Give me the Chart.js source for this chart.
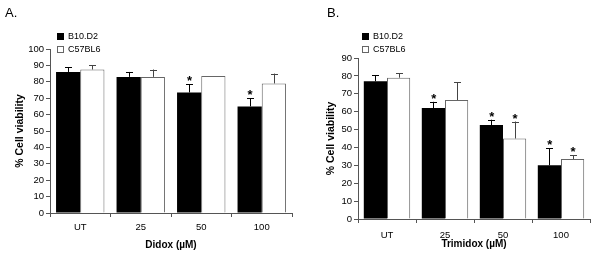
<!DOCTYPE html>
<html>
<head>
<meta charset="utf-8">
<script src="https://cdn.jsdelivr.net/npm/chart.js@4.4.1/dist/chart.umd.min.js"></script>
<style>
  body { margin: 0; background: #fff; }
  .wrap { display: flex; width: 600px; height: 262px; }
  canvas { display: block; }
</style>
</head>
<body>
<div class="wrap">
  <canvas id="didoxChart" width="300" height="262"></canvas>
  <canvas id="trimidoxChart" width="300" height="262"></canvas>
</div>
<script>
// values
const categories = ['UT', '25', '50', '100'];
const seriesNames = ['B10.D2', 'C57BL6'];

// A. Didox
const didoxB10 = [86, 83, 73.5, 65];
const didoxB10Err = [3, 3, 5, 5];
const didoxB10Star = [false, false, true, true];
const didoxC57 = [87.5, 83, 83.5, 79];
const didoxC57Err = [2.5, 4.5, 0, 6];
const didoxC57Star = [false, false, false, false];

// B. Trimidox
const trimB10 = [77, 62, 52.5, 30];
const trimB10Err = [3.5, 3.5, 3, 9.5];
const trimB10Star = [false, true, true, true];
const trimC57 = [79, 66.5, 45, 33.5];
const trimC57Err = [2.5, 10, 9.5, 2];
const trimC57Star = [false, false, true, true];

const FONT = "'Liberation Sans', Arial, sans-serif";
const AXIS = '#555';

// error bars (upper only), stars, legend and panel letter
const extras = {
  id: 'extras',
  afterDatasetsDraw(chart, args, opts) {
    const ctx = chart.ctx;
    const y = chart.scales.y;
    ctx.save();
    chart.data.datasets.forEach((ds, i) => {
      const meta = chart.getDatasetMeta(i);
      meta.data.forEach((bar, j) => {
        const v = ds.data[j];
        const e = ds.errors[j];
        let top = y.getPixelForValue(v);
        if (e > 0) {
          top = y.getPixelForValue(v + e);
          ctx.strokeStyle = i === 0 ? '#000' : '#444';
          ctx.lineWidth = 1;
          ctx.beginPath();
          ctx.moveTo(Math.round(bar.x) + 0.5, y.getPixelForValue(v));
          ctx.lineTo(Math.round(bar.x) + 0.5, top);
          ctx.moveTo(Math.round(bar.x) - 3, Math.round(top) + 0.5);
          ctx.lineTo(Math.round(bar.x) + 4, Math.round(top) + 0.5);
          ctx.stroke();
        }
        if (ds.stars[j]) {
          ctx.fillStyle = '#000';
          ctx.font = 'bold 13px ' + FONT;
          ctx.textAlign = 'center';
          ctx.textBaseline = 'alphabetic';
          ctx.fillText('*', bar.x + 0.5, top + 1);
        }
      });
    });

    // legend
    ctx.font = '9px ' + FONT;
    ctx.textAlign = 'left';
    ctx.textBaseline = 'middle';
    chart.data.datasets.forEach((ds, i) => {
      const ly = opts.legendY + i * 13;
      ctx.fillStyle = ds.backgroundColor;
      ctx.fillRect(opts.legendX, ly, 7, 7);
      ctx.strokeStyle = ds.borderColor;
      ctx.lineWidth = 1;
      ctx.strokeRect(opts.legendX + 0.5, ly + 0.5, 6, 6);
      ctx.fillStyle = '#000';
      ctx.fillText(ds.label, opts.legendX + 11, ly + 4);
    });

    // panel letter
    ctx.font = '13px ' + FONT;
    ctx.textBaseline = 'alphabetic';
    ctx.fillText(opts.panel, opts.panelX, 17);
    ctx.restore();
  }
};

function scalesFor(max, axisW, axisH, yTitlePad, xTitle, xTitlePad, xTickPad) {
  return {
    x: {
      grid: { drawOnChartArea: false, tickLength: 4, color: AXIS },
      border: { color: AXIS },
      ticks: { color: '#000', font: { family: FONT, size: 9.5 }, padding: xTickPad },
      title: { display: true, text: xTitle, color: '#000', font: { family: FONT, size: 10, weight: 'bold' }, padding: { bottom: xTitlePad } },
      afterFit: s => { s.height = axisH; }
    },
    y: {
      min: 0,
      max: max,
      grid: { drawOnChartArea: false, tickLength: 4, color: AXIS },
      border: { color: AXIS },
      ticks: { stepSize: 10, color: '#000', font: { family: FONT, size: 9.5 }, padding: 2 },
      title: { display: true, text: '% Cell viability', color: '#000', font: { family: FONT, size: 10.5, weight: 'bold' }, padding: { top: yTitlePad } },
      afterFit: s => { s.width = axisW; }
    }
  };
}

new Chart(document.getElementById('didoxChart'), {
  type: 'bar',
  data: {
    labels: categories,
    datasets: [{
      label: seriesNames[0],
      data: didoxB10,
      errors: didoxB10Err,
      stars: didoxB10Star,
      backgroundColor: '#000',
      borderColor: '#000',
      borderWidth: 0
    }, {
      label: seriesNames[1],
      data: didoxC57,
      errors: didoxC57Err,
      stars: didoxC57Star,
      backgroundColor: '#fff',
      borderColor: '#666',
      borderWidth: 1
    }]
  },
  options: {
    responsive: false,
    animation: false,
    events: [],
    layout: { padding: { top: 49, right: 8, left: 0, bottom: 0 } },
    datasets: { bar: { categoryPercentage: 0.8, barPercentage: 1 } },
    scales: scalesFor(100, 50, 49, 14, 'Didox (\u00b5M)', 11, 5),
    plugins: {
      legend: { display: false },
      tooltip: { enabled: false },
      extras: { panel: 'A.', panelX: 5, legendX: 57, legendY: 33 }
    }
  },
  plugins: [extras]
});

new Chart(document.getElementById('trimidoxChart'), {
  type: 'bar',
  data: {
    labels: categories,
    datasets: [{
      label: seriesNames[0],
      data: trimB10,
      errors: trimB10Err,
      stars: trimB10Star,
      backgroundColor: '#000',
      borderColor: '#000',
      borderWidth: 0
    }, {
      label: seriesNames[1],
      data: trimC57,
      errors: trimC57Err,
      stars: trimC57Star,
      backgroundColor: '#fff',
      borderColor: '#666',
      borderWidth: 1
    }]
  },
  options: {
    responsive: false,
    animation: false,
    events: [],
    layout: { padding: { top: 58, right: 10, left: 0, bottom: 0 } },
    datasets: { bar: { categoryPercentage: 0.8, barPercentage: 1 } },
    scales: scalesFor(90, 58, 43, 25, 'Trimidox (\u00b5M)', 12, 7),
    plugins: {
      legend: { display: false },
      tooltip: { enabled: false },
      extras: { panel: 'B.', panelX: 27, legendX: 62, legendY: 33 }
    }
  },
  plugins: [extras]
});
</script>
</body>
</html>
